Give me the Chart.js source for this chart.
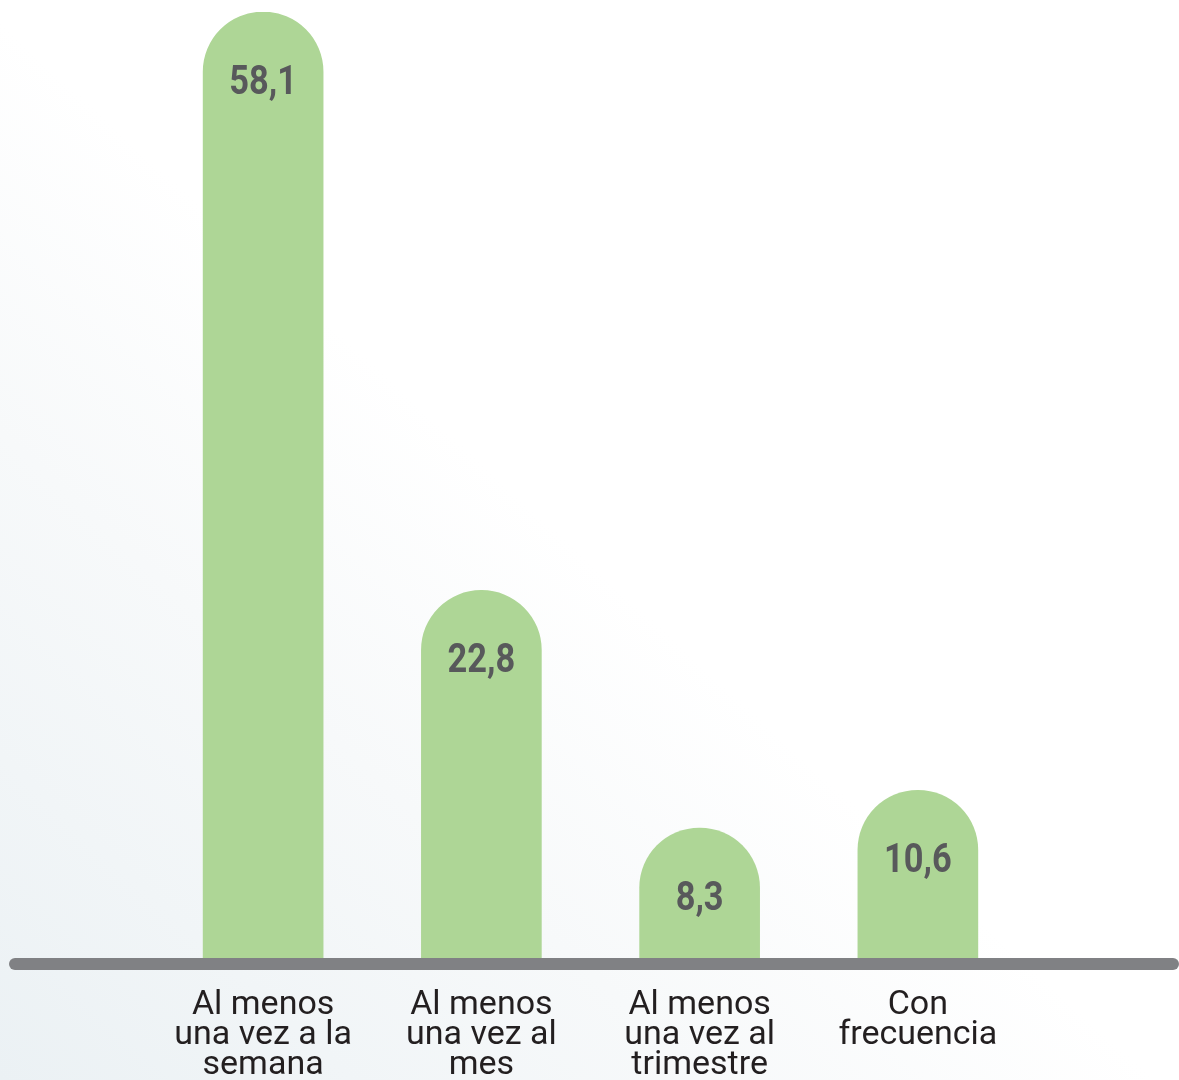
<!DOCTYPE html>
<html>
<head>
<meta charset="utf-8">
<script src="https://cdn.jsdelivr.net/npm/chart.js@4/dist/chart.umd.min.js"></script>
<style>
  html, body { margin: 0; padding: 0; }
  body {
    width: 1179px; height: 1080px; overflow: hidden;
    background: linear-gradient(to top right, #ebf1f4 0%, #f7f9fa 30%, #ffffff 49%, #ffffff 100%);
  }
  #wrap { position: absolute; left: 0; top: 0; width: 1179px; height: 1080px; }
</style>
</head>
<body>
<div id="wrap"><canvas id="c" width="1179" height="1080"></canvas></div>
<script>
const categories = [
  ["Al menos", "una vez a la", "semana"],
  ["Al menos", "una vez al", "mes"],
  ["Al menos", "una vez al", "trimestre"],
  ["Con", "frecuencia"]
];
const values = [58.1, 22.8, 8.3, 10.6];
const valueLabels = ["58,1", "22,8", "8,3", "10,6"];

const baseLine = {
  id: 'baseLine',
  afterDatasetsDraw(chart) {
    const ctx = chart.ctx;
    const y = chart.chartArea.bottom;
    ctx.save();
    ctx.strokeStyle = '#808184';
    ctx.lineWidth = 12;
    ctx.lineCap = 'round';
    ctx.beginPath();
    ctx.moveTo(15, y);
    ctx.lineTo(1173, y);
    ctx.stroke();
    ctx.restore();
  }
};

const valueLabelPlugin = {
  id: 'valueLabels',
  afterDatasetsDraw(chart) {
    const ctx = chart.ctx;
    const meta = chart.getDatasetMeta(0);
    ctx.save();
    ctx.fillStyle = '#58595b';
    ctx.font = 'bold 40px Roboto';
    ctx.textAlign = 'center';
    ctx.textBaseline = 'middle';
    meta.data.forEach((bar, i) => {
      ctx.save();
      ctx.translate(bar.x, bar.y + 72);
      ctx.scale(0.86, 1);
      ctx.fillText(valueLabels[i], 0, 0);
      ctx.restore();
    });
    ctx.restore();
  }
};

new Chart(document.getElementById('c'), {
  type: 'bar',
  data: {
    labels: categories,
    datasets: [{
      data: values,
      backgroundColor: '#aed696',
      barThickness: 120,
      borderRadius: { topLeft: 60, topRight: 60, bottomLeft: 0, bottomRight: 0 },
      borderSkipped: false
    }]
  },
  options: {
    responsive: false,
    animation: false,
    layout: { padding: { left: 154, right: 152, top: 12, bottom: 0 } },
    plugins: { legend: { display: false }, tooltip: { enabled: false } },
    scales: {
      y: { display: false, min: 0, max: 58.1 },
      x: {
        grid: { display: false },
        border: { display: false },
        ticks: {
          color: '#231f20',
          font: { family: 'Roboto', size: 34, lineHeight: 0.88 },
          padding: 19,
          maxRotation: 0,
          autoSkip: false
        },
        afterFit(scale) { scale.height = 1080 - 964; }
      }
    }
  },
  plugins: [baseLine, valueLabelPlugin]
});
</script>
</body>
</html>
